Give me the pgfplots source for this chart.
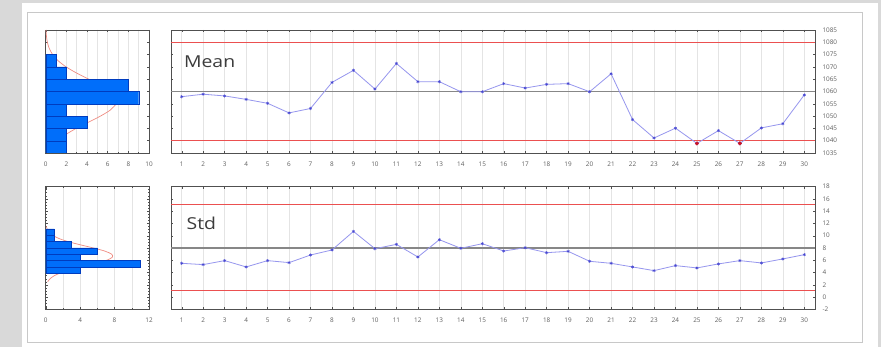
\documentclass[border=0pt]{standalone}
\usepackage{fontspec}
\setmainfont{Open Sans}
\usepackage{graphicx}
\usepackage{pgfplots}
\pgfplotsset{compat=1.18}

\definecolor{bg}{RGB}{217,217,217}
\definecolor{frameline}{RGB}{200,200,200}
\definecolor{axgray}{RGB}{80,80,80}
\definecolor{gridc}{RGB}{228,228,228}
\definecolor{uclc}{RGB}{235,80,80}
\definecolor{clc}{RGB}{135,135,135}
\definecolor{dline}{RGB}{150,150,238}
\definecolor{dmark}{RGB}{70,70,210}
\definecolor{outc}{RGB}{200,20,40}
\definecolor{histblue}{RGB}{0,110,250}
\definecolor{histedge}{RGB}{0,60,190}
\definecolor{fitc}{RGB}{240,140,130}
\definecolor{textc}{RGB}{60,60,60}
\definecolor{tlab}{RGB}{95,95,95}

\pgfplotsset{
  base/.style={
    scale only axis, anchor=south west,
    tick align=inside, major tick length=2.2bp, minor tick length=1.3bp,
    xtick pos=both, ytick pos=both,
    axis line style={axgray, line width=0.8bp},
    tick style={axgray, line width=0.4bp},
    grid style={gridc, line width=0.5bp},
    ticklabel style={font=\fontsize{6.4}{7}\selectfont, text=tlab},
    /pgf/number format/assume math mode=true,
    /pgf/number format/1000 sep={},
    xticklabel style={yshift=-5bp},
  },
  cc/.style={base,
    width=644bp, height=123bp,
    xmin=0.5, xmax=30.5, xtick={1,...,30},
    xmajorgrids,
    yticklabel pos=right,
    yticklabel style={xshift=4bp},
  },
  hh/.style={base,
    width=103.3bp, height=123bp,
    xmajorgrids, xminorgrids,
    yticklabels={},
  },
  lim/.style={color=uclc, solid, line width=1bp},
  cen/.style={color=clc, solid, line width=1.6bp},
}

\begin{document}
\begin{tikzpicture}
\fill[bg] (0,0) rectangle (881bp,347bp);
\fill[white] (22bp,0) rectangle (878bp,344bp);
\draw[frameline, line width=0.8bp] (27bp,5bp) rectangle (862bp,335bp);

% ---------- Mean chart ----------
\begin{axis}[cc, at={(171bp,194bp)},
  ymin=1035, ymax=1085, ytick={1035,1040,...,1085}]
\addplot[lim] coordinates {(0.5,1080) (30.5,1080)};
\addplot[lim] coordinates {(0.5,1040) (30.5,1040)};
\addplot[cen] coordinates {(0.5,1060) (30.5,1060)};
\addplot[dline, line width=0.8bp, mark=asterisk, mark size=1.6bp,
  mark options={dmark, line width=0.5bp}] coordinates {
(1,1057.9) (2,1058.9) (3,1058.2) (4,1056.8) (5,1055.2) (6,1051.3) (7,1053.1)
(8,1063.7) (9,1068.6) (10,1061.0) (11,1071.4) (12,1064.0) (13,1064.0)
(14,1059.9) (15,1059.9) (16,1063.2) (17,1061.4) (18,1062.9) (19,1063.2)
(20,1059.9) (21,1067.2) (22,1048.6) (23,1041.1) (24,1045.1) (25,1038.9)
(26,1044.1) (27,1038.9) (28,1045.2) (29,1046.9) (30,1058.6)};
\addplot[only marks, mark=*, mark size=1.8bp, outc] coordinates {(25,1038.9) (27,1038.9)};
\node[anchor=west, text=textc, font=\fontsize{16.5}{18}\selectfont, inner sep=0pt]
  at (rel axis cs:0.02,0.74) {\scalebox{1.18}[1]{Mean}};
\end{axis}

% ---------- Std chart ----------
\begin{axis}[cc, at={(171bp,37.5bp)},
  ymin=-2, ymax=18, ytick={-2,0,...,18}]
\addplot[lim] coordinates {(0.5,15.05) (30.5,15.05)};
\addplot[lim] coordinates {(0.5,1.1) (30.5,1.1)};
\addplot[cen] coordinates {(0.5,8) (30.5,8)};
\addplot[dline, line width=0.8bp, mark=asterisk, mark size=1.6bp,
  mark options={dmark, line width=0.5bp}] coordinates {
(1,5.51) (2,5.30) (3,5.95) (4,4.92) (5,5.95) (6,5.62) (7,6.86) (8,7.68)
(9,10.70) (10,7.89) (11,8.59) (12,6.54) (13,9.35) (14,7.95) (15,8.70)
(16,7.51) (17,8.05) (18,7.24) (19,7.46) (20,5.84) (21,5.51) (22,4.92)
(23,4.32) (24,5.14) (25,4.76) (26,5.41) (27,5.95) (28,5.57) (29,6.22) (30,6.92)};
\node[anchor=west, text=textc, font=\fontsize{16.5}{18}\selectfont, inner sep=0pt]
  at (rel axis cs:0.024,0.70) {\scalebox{1.18}[1]{Std}};
\end{axis}

% ---------- Mean histogram ----------
\begin{axis}[hh, at={(45.7bp,194bp)},
  xmin=0, xmax=10, xtick={0,2,...,10}, minor x tick num=1,
  ymin=1035, ymax=1085, ytick={1035,1040,...,1085}]
\addplot[fitc, line width=0.7bp, smooth] coordinates {
(0.337,1035) (0.657,1037.5) (1.178,1040) (1.944,1042.5) (2.949,1045)
(4.123,1047.5) (5.299,1050) (6.268,1052.5) (6.823,1055) (6.9,1056.3)
(6.834,1057.5) (6.299,1060) (5.343,1062.5) (4.170,1065) (2.995,1067.5)
(1.979,1070) (1.204,1072.5) (0.673,1075) (0.347,1077.5) (0.164,1080)
(0.072,1082.5) (0.029,1085)};
\addplot[xbar interval, fill=histblue, draw=histedge, line width=0.3bp] coordinates {
(2,1035) (2,1040) (4,1045) (2,1050) (9,1055) (8,1060) (2,1065) (1,1070) (1,1075)};
\end{axis}

% ---------- Std histogram ----------
\begin{axis}[hh, at={(45.7bp,37.5bp)},
  xmin=0, xmax=12, xtick={0,4,8,12}, minor x tick num=1,
  ymin=-2, ymax=18, ytick={-2,0,...,18}, minor y tick num=3]
\addplot[fitc, line width=0.7bp, smooth] coordinates {
(0.228,2.5) (0.502,3) (1.003,3.5) (1.811,4) (2.959,4.5) (4.373,5)
(5.846,5.5) (7.071,6) (7.738,6.5) (7.66,7) (6.862,7.5) (5.560,8)
(4.076,8.5) (2.704,9) (1.623,9.5) (0.881,10) (0.433,10.5) (0.192,11) (0.077,11.5)};
\addplot[xbar interval, fill=histblue, draw=histedge, line width=0.3bp] coordinates {
(4,3.89) (11,4.92) (4,5.95) (6,6.98) (3,8.01) (1,9.04) (1,10.07) (1,11.10)};
\end{axis}
\end{tikzpicture}
\end{document}
